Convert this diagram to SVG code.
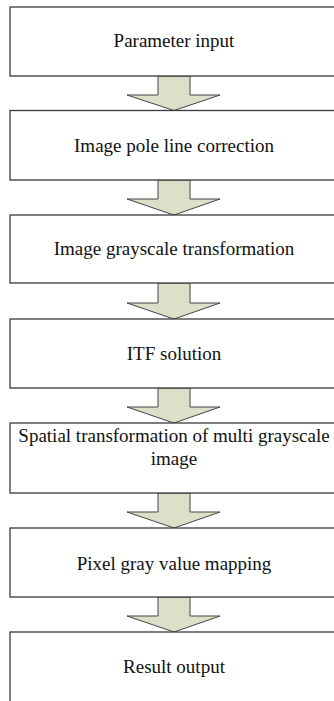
<svg xmlns="http://www.w3.org/2000/svg" width="334" height="701" viewBox="0 0 334 701">
<style>
.box{fill:#ffffff;stroke:#3a3a3a;stroke-width:1.3}
.arr{fill:#dde0c9;stroke:#454545;stroke-width:1}
.t{font-family:"Liberation Serif","Times New Roman",serif;font-size:19px;fill:#111;text-anchor:middle}
</style>
<rect width="334" height="701" fill="#ffffff"/>
<g id="connectors">
<polygon class="arr" points="158,76 190,76 190,95 220,95 174,110.5 127,95 158,95"/>
<polygon class="arr" points="158,180 190,180 190,199 220,199 174,215 127,199 158,199"/>
<polygon class="arr" points="158,283 190,283 190,303 220,303 174,319 127,303 158,303"/>
<polygon class="arr" points="158,388 190,388 190,407 220,407 174,423 127,407 158,407"/>
<polygon class="arr" points="158,493 190,493 190,512 220,512 174,528 127,512 158,512"/>
<polygon class="arr" points="158,597 190,597 190,616 220,616 174,632 127,616 158,616"/>
</g>
<g id="n1"><rect class="box" x="10" y="7" width="330" height="69"/><text class="t" x="174" y="47">Parameter input</text></g>
<g id="n2"><rect class="box" x="10" y="110.5" width="330" height="69.5"/><text class="t" x="174" y="152">Image pole line correction</text></g>
<g id="n3"><rect class="box" x="10" y="215" width="330" height="68"/><text class="t" x="174" y="255">Image grayscale transformation</text></g>
<g id="n4"><rect class="box" x="10" y="319" width="330" height="69"/><text class="t" x="174" y="360">ITF solution</text></g>
<g id="n5"><rect class="box" x="10" y="423" width="330" height="70"/><text class="t" x="174" y="442">Spatial transformation of multi grayscale</text><text class="t" x="174" y="465">image</text></g>
<g id="n6"><rect class="box" x="10" y="528" width="330" height="69"/><text class="t" x="174" y="570">Pixel gray value mapping</text></g>
<g id="n7"><rect class="box" x="10" y="632" width="330" height="72"/><text class="t" x="174" y="673">Result output</text></g>
</svg>
